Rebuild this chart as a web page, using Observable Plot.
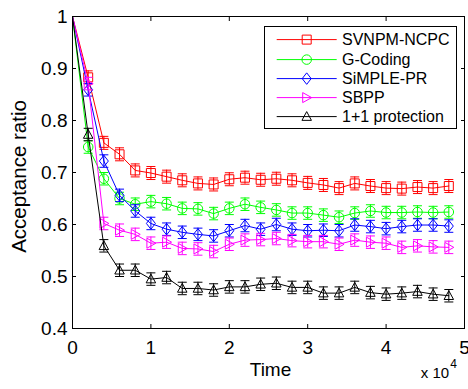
<!DOCTYPE html>
<html><head><meta charset="utf-8">
<script src="https://cdn.jsdelivr.net/npm/d3@7"></script>
<script src="https://cdn.jsdelivr.net/npm/@observablehq/plot@0.6"></script>
<style>
body{margin:0;background:#fff;}
#wrap{position:relative;width:468px;height:389px;font-family:"Liberation Sans",Arial,Helvetica,sans-serif;}
#legend{position:absolute;left:264px;top:26px;width:193px;height:103px;box-sizing:border-box;border:1px solid #000;background:#fff;padding-top:3.4px;}
.row{display:flex;align-items:center;height:19.2px;}
.row svg{flex:none;display:block;}
.row span{font-size:16px;line-height:19.2px;color:#000;white-space:nowrap;}
</style></head>
<body><div id="wrap"><div id="legend"></div></div>
<script>
// ---- data ----
const time = [0, 2000, 4000, 6000, 8000, 10000, 12000, 14000, 16000, 18000, 20000, 22000, 24000,
  26000, 28000, 30000, 32000, 34000, 36000, 38000, 40000, 42000, 44000, 46000, 48000];
const seriesNames = ["SVNPM-NCPC", "G-Coding", "SiMPLE-PR", "SBPP", "1+1 protection"];
const colors = ["#ff0000", "#00ff00", "#0000ff", "#ff00ff", "#000000"];
const svnpm   = [1, 0.883, 0.757, 0.735, 0.704, 0.699, 0.692, 0.685, 0.679, 0.677, 0.687, 0.690, 0.686, 0.688, 0.685, 0.680, 0.676, 0.670, 0.679, 0.674, 0.670, 0.669, 0.672, 0.670, 0.674];
const gcoding = [1, 0.749, 0.688, 0.650, 0.639, 0.644, 0.640, 0.631, 0.630, 0.621, 0.631, 0.639, 0.633, 0.628, 0.622, 0.622, 0.618, 0.614, 0.622, 0.626, 0.623, 0.623, 0.624, 0.623, 0.624];
const simple  = [1, 0.859, 0.722, 0.656, 0.626, 0.602, 0.591, 0.585, 0.581, 0.578, 0.588, 0.598, 0.591, 0.600, 0.591, 0.588, 0.589, 0.588, 0.599, 0.596, 0.592, 0.596, 0.599, 0.599, 0.597];
const sbpp    = [1, 0.871, 0.602, 0.589, 0.581, 0.564, 0.566, 0.554, 0.553, 0.548, 0.562, 0.570, 0.571, 0.573, 0.569, 0.567, 0.567, 0.562, 0.570, 0.566, 0.564, 0.556, 0.559, 0.557, 0.556];
const oneplus = [1, 0.773, 0.559, 0.512, 0.512, 0.495, 0.498, 0.477, 0.477, 0.474, 0.480, 0.480, 0.485, 0.487, 0.479, 0.479, 0.468, 0.468, 0.479, 0.469, 0.466, 0.468, 0.471, 0.466, 0.463];
const errors = [0.0125, 0.012, 0.012, 0.012, 0.012];
const xTicks = [0, 10000, 20000, 30000, 40000, 50000];
const yTicks = [0.4, 0.5, 0.6, 0.7, 0.8, 0.9, 1];

const seriesValues = [svnpm, gcoding, simple, sbpp, oneplus];
const rows = seriesNames.flatMap((s, i) => time.map((t, j) => ({series: s, t, v: seriesValues[i][j], err: errors[i]})));

// ---- MATLAB-like marker shapes ----
const rad = s => Math.sqrt(s / Math.PI);
const symSquare = {draw(c, s) { const r = rad(s) * 0.9; c.moveTo(-r, -r); c.lineTo(r, -r); c.lineTo(r, r); c.lineTo(-r, r); c.closePath(); }};
const symCircle = {draw(c, s) { const r = rad(s) * 0.95; c.moveTo(r, 0); c.arc(0, 0, r, 0, 2 * Math.PI); }};
const symDiamond = {draw(c, s) { const r = rad(s); c.moveTo(0, -1.15 * r); c.lineTo(0.9 * r, 0); c.lineTo(0, 1.15 * r); c.lineTo(-0.9 * r, 0); c.closePath(); }};
const symRight = {draw(c, s) { const r = rad(s); c.moveTo(1.0 * r, 0); c.lineTo(-0.8 * r, 1.0 * r); c.lineTo(-0.8 * r, -1.0 * r); c.closePath(); }};
const symUp = {draw(c, s) { const r = rad(s); c.moveTo(0, -1.0 * r); c.lineTo(0.95 * r, 0.75 * r); c.lineTo(-0.95 * r, 0.75 * r); c.closePath(); }};
const symCap = {draw(c, s) { const r = rad(s) * 0.9; c.moveTo(-r, 0); c.lineTo(r, 0); }};
const symbols = [symSquare, symCircle, symDiamond, symRight, symUp];

const marks = [];
seriesNames.forEach((s, i) => {
  const d = rows.filter(r => r.series === s);
  const dm = d.filter(r => r.t > 0);
  marks.push(
    Plot.line(d, {x: "t", y: "v", stroke: colors[i], strokeWidth: 1}),
    Plot.ruleX(dm, {x: "t", y1: r => r.v - r.err, y2: r => r.v + r.err, stroke: colors[i], strokeWidth: 1}),
    Plot.dot(dm, {x: "t", y: r => r.v - r.err, symbol: symCap, r: 5, stroke: colors[i], strokeWidth: 1, fill: "none"}),
    Plot.dot(dm, {x: "t", y: r => r.v + r.err, symbol: symCap, r: 5, stroke: colors[i], strokeWidth: 1, fill: "none"}),
    Plot.dot(dm, {x: "t", y: "v", symbol: symbols[i], r: 5, stroke: colors[i], strokeWidth: 1, fill: "none"})
  );
});

const fmtY = d => String(+d.toFixed(1));
const chart = Plot.plot({
  width: 468, height: 389,
  marginLeft: 72, marginRight: 4, marginTop: 16, marginBottom: 61,
  style: {fontFamily: '"Liberation Sans", Arial, Helvetica, sans-serif', fontSize: "19px", color: "#000", background: "transparent"},
  x: {domain: [0, 50000]},
  y: {domain: [0.4, 1]},
  marks: [
    ...marks,
    Plot.frame({stroke: "#000", strokeWidth: 1}),
    Plot.axisX(xTicks, {anchor: "bottom", tickSize: 0, tickPadding: 11.5, tickFormat: d => d / 10000, label: null, fontSize: 19}),
    Plot.axisX(xTicks, {anchor: "bottom", tickSize: -4, tickFormat: () => "", label: null}),
    Plot.axisX(xTicks, {anchor: "top", tickSize: -4, tickFormat: () => "", label: null}),
    Plot.axisY(yTicks, {anchor: "left", tickSize: 0, tickPadding: 5, tickFormat: fmtY, label: null, fontSize: 19}),
    Plot.axisY(yTicks, {anchor: "left", tickSize: -4, tickFormat: () => "", label: null}),
    Plot.axisY(yTicks, {anchor: "right", tickSize: -4, tickFormat: () => "", label: null}),
    Plot.text(["Acceptance ratio"], {text: d => d, frameAnchor: "left", dx: -53.5, dy: 4, rotate: -90, fontSize: 20.5, lineAnchor: "middle", textAnchor: "middle", fill: "#000"}),
    Plot.text(["Time"], {text: d => d, frameAnchor: "bottom", dx: 2, dy: 41.4, fontSize: 19, lineAnchor: "middle", fill: "#000"}),
    Plot.text(["x 10"], {text: d => d, frameAnchor: "bottom-right", dx: -15.4, dy: 44.4, fontSize: 15, lineAnchor: "middle", textAnchor: "end", fill: "#000"}),
    Plot.text(["4"], {text: d => d, frameAnchor: "bottom-right", dx: -14.2, dy: 35.2, fontSize: 12, lineAnchor: "middle", textAnchor: "start", fill: "#000"})
  ]
});
const wrap = document.getElementById("wrap");
wrap.insertBefore(chart, wrap.firstChild);

// ---- legend ----
const legend = d3.select("#legend");
seriesNames.forEach((s, i) => {
  const row = legend.append("div").attr("class", "row");
  const svg = row.append("svg").attr("width", 77).attr("height", 19.2);
  svg.append("line").attr("x1", 11.7).attr("x2", 71.7).attr("y1", 9.6).attr("y2", 9.6)
    .attr("stroke", colors[i]).attr("stroke-width", 1);
  const p = d3.path();
  symbols[i].draw(p, Math.PI * 25);
  svg.append("path").attr("d", p.toString()).attr("transform", "translate(41.7,9.6)")
    .attr("fill", "none").attr("stroke", colors[i]).attr("stroke-width", 1);
  row.append("span").text(s);
});
</script>
</body></html>
